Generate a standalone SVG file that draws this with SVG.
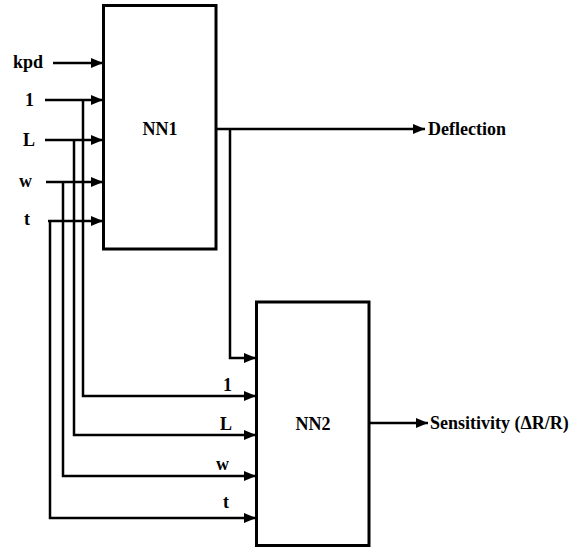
<svg xmlns="http://www.w3.org/2000/svg" width="574" height="547" viewBox="0 0 574 547">
<defs>
<marker id="ah" markerWidth="12" markerHeight="10" refX="12" refY="5" orient="auto" markerUnits="userSpaceOnUse">
<path d="M0,0 L12,5 L0,10 Z" fill="#000"/>
</marker>
<style>
.box{fill:#fff;stroke:#000;stroke-width:3}
.ln{fill:none;stroke:#000;stroke-width:2.5;stroke-linejoin:miter}
.ar{marker-end:url(#ah)}
.tx{font-family:'Liberation Serif','Times New Roman',Times,serif;font-size:18px;fill:#000;font-weight:bold}
.nm{text-anchor:middle}
</style>
</defs>
<rect width="574" height="547" fill="#fff"/>
<g id="connectors">
<line class="ln ar" x1="53" y1="63" x2="103" y2="63"/>
<line class="ln ar" x1="45" y1="100" x2="103" y2="100"/>
<line class="ln ar" x1="45" y1="140" x2="103" y2="140"/>
<line class="ln ar" x1="46" y1="182" x2="103" y2="182"/>
<line class="ln ar" x1="48" y1="221" x2="103" y2="221"/>
<polyline class="ln ar" points="83,100 83,396 256,396"/>
<polyline class="ln ar" points="74,140 74,435 256,435"/>
<polyline class="ln ar" points="63,182 63,476 256,476"/>
<polyline class="ln ar" points="50,221 50,518 256,518"/>
<polyline class="ln ar" points="217,129 425,129"/>
<polyline class="ln ar" points="230,129 230,358 256,358"/>
<line class="ln ar" x1="369" y1="423" x2="428" y2="423"/>
</g>
<g id="nn1">
<rect class="box" x="103.5" y="5.5" width="112.5" height="243.5"/>
<text class="tx nm" x="160" y="135">NN1</text>
</g>
<g id="nn2">
<rect class="box" x="256.5" y="302" width="112.5" height="243.5"/>
<text class="tx nm" x="313" y="430">NN2</text>
</g>
<g id="labels">
<text class="tx" x="13" y="68">kpd</text>
<text class="tx" x="25" y="106">1</text>
<text class="tx" x="23" y="146">L</text>
<text class="tx" x="19" y="187">w</text>
<text class="tx" x="24" y="225">t</text>
<text class="tx" x="223" y="391">1</text>
<text class="tx" x="220" y="430">L</text>
<text class="tx" x="216" y="470">w</text>
<text class="tx" x="223" y="508">t</text>
<text class="tx" x="428" y="135">Deflection</text>
<text class="tx" x="430" y="429">Sensitivity (ΔR/R)</text>
</g>
</svg>
